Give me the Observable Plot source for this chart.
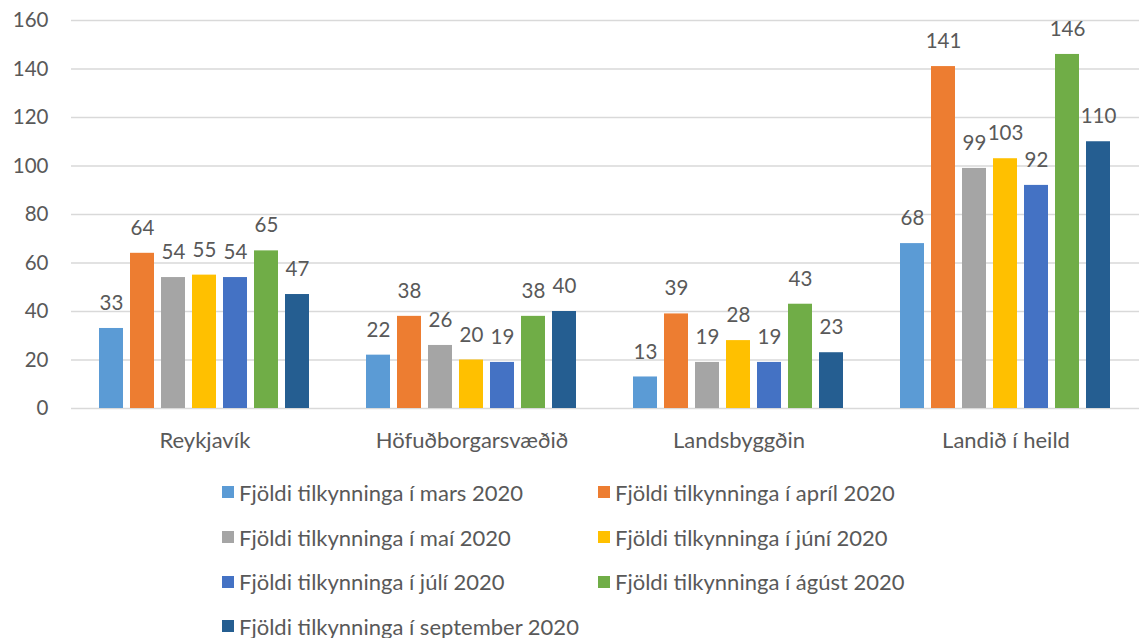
<!DOCTYPE html>
<html>
<head>
<meta charset="utf-8">
<script src="https://cdn.jsdelivr.net/npm/d3@7"></script>
<script src="https://cdn.jsdelivr.net/npm/@observablehq/plot@0.6"></script>
<style>
  html, body { margin: 0; padding: 0; background: #fff; }
  #chart { position: relative; width: 1143px; }
  .legend { position: relative; display: grid; grid-template-columns: 376px 340px; margin-left: 222px; padding-top: 10px; font-family: Lato, "Open Sans", sans-serif; font-size: 22px; color: #595959; }
  .legend .item { height: 44.7px; display: flex; align-items: center; white-space: nowrap; }
  .legend .sw { width: 12px; height: 12px; margin-right: 5px; flex: none; }
</style>
</head>
<body>
<div id="chart"></div>
<script>
const categories = ["Reykjavík", "Höfuðborgarsvæðið", "Landsbyggðin", "Landið í heild"];
const series = [
  "Fjöldi tilkynninga í mars 2020",
  "Fjöldi tilkynninga í apríl 2020",
  "Fjöldi tilkynninga í maí 2020",
  "Fjöldi tilkynninga í júní 2020",
  "Fjöldi tilkynninga í júlí 2020",
  "Fjöldi tilkynninga í ágúst 2020",
  "Fjöldi tilkynninga í september 2020"
];
const colors = ["#5B9BD5", "#ED7D31", "#A5A5A5", "#FFC000", "#4472C4", "#70AD47", "#255E91"];
const mars      = [33, 22, 13, 68];
const april     = [64, 38, 39, 141];
const mai       = [54, 26, 19, 99];
const juni      = [55, 20, 28, 103];
const juli      = [54, 19, 19, 92];
const agust     = [65, 38, 43, 146];
const september = [47, 40, 23, 110];
const yTicks = [0, 20, 40, 60, 80, 100, 120, 140, 160];

const seriesValues = [mars, april, mai, juni, juli, agust, september];
const data = [];
categories.forEach((c, ci) => {
  series.forEach((s, si) => {
    data.push({cat: c, series: s, value: seriesValues[si][ci]});
  });
});

const textColor = "#595959";
const plot = Plot.plot({
  width: 1143,
  height: 460,
  marginLeft: 69,
  marginRight: 3,
  marginTop: 20,
  marginBottom: 52,
  style: {fontFamily: "Lato, 'Open Sans', sans-serif", fontSize: "20px", color: textColor, background: "#fff"},
  fx: {domain: categories, padding: 0},
  x: {domain: series, paddingInner: 0.22, paddingOuter: 0.8, axis: null},
  y: {domain: [0, 160], axis: null},
  color: {domain: series, range: colors},
  marks: [
    Plot.ruleY(yTicks, {stroke: "#d9d9d9", strokeWidth: 1.3}),
    Plot.axisY({ticks: yTicks, tickSize: 0, tickPadding: 23, label: null, fill: textColor, fontSize: 20.5}),
    Plot.axisFx({anchor: "bottom", tickSize: 0, tickPadding: 24, label: null, fill: textColor, fontSize: 22}),
    Plot.barY(data, {fx: "cat", x: "series", y: "value", fill: "series"}),
    Plot.text(data, {fx: "cat", x: "series", y: "value", text: d => String(d.value), dy: -25, fill: textColor, fontSize: 20.5})
  ]
});
document.getElementById("chart").appendChild(plot);

const legend = document.createElement("div");
legend.className = "legend";
series.forEach((s, i) => {
  const item = document.createElement("div");
  item.className = "item";
  const sw = document.createElement("span");
  sw.className = "sw";
  sw.style.background = colors[i];
  const lab = document.createElement("span");
  lab.textContent = s;
  item.appendChild(sw);
  item.appendChild(lab);
  legend.appendChild(item);
});
document.getElementById("chart").appendChild(legend);
</script>
</body>
</html>
